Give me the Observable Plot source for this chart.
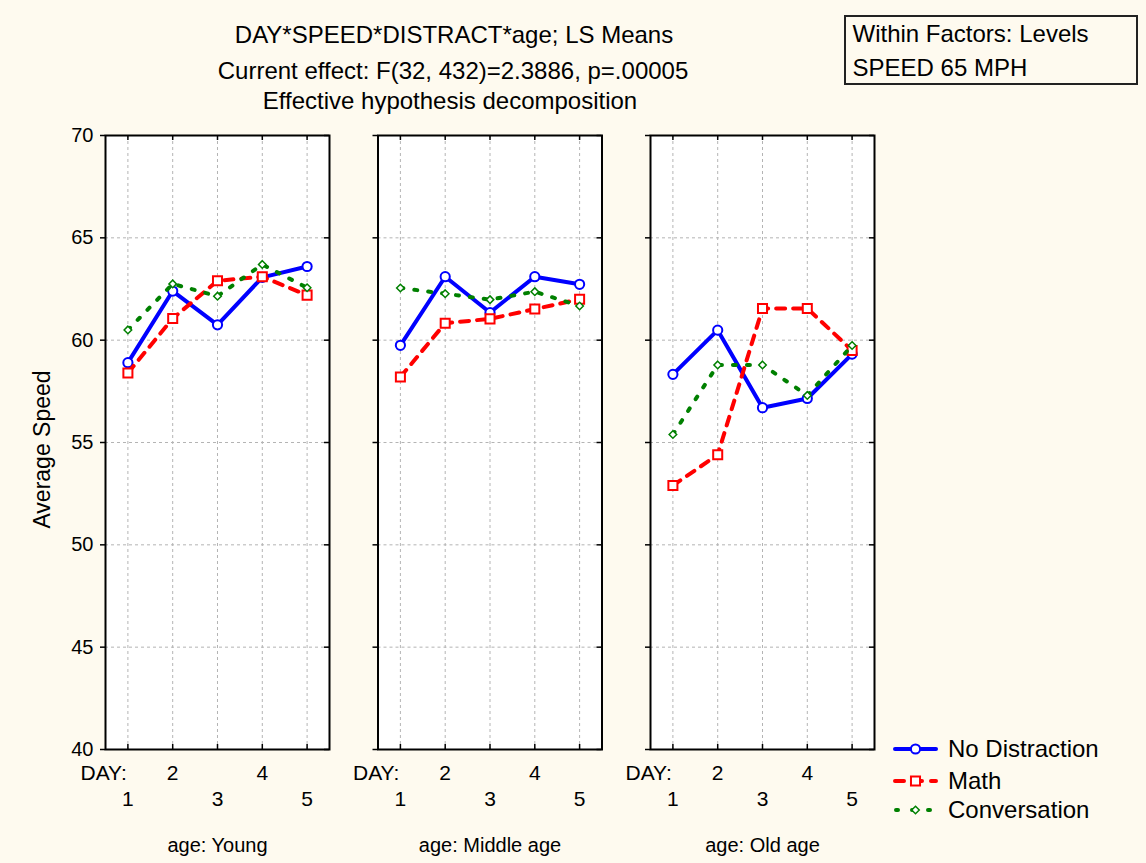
<!DOCTYPE html>
<html><head><meta charset="utf-8">
<script src="https://cdn.jsdelivr.net/npm/d3@7"></script>
<script src="https://cdn.jsdelivr.net/npm/@observablehq/plot@0.6"></script>
<style>
html,body{margin:0;padding:0;background:#fefaef;}
body{width:1146px;height:863px;position:relative;overflow:hidden;font-family:"Liberation Sans",Arial,sans-serif;color:#000;}
#chart{position:absolute;left:0;top:0;}
#chart g[aria-label="y-axis tick label"], #chart g[aria-label="y-axis tick label"] text{font-size:20px !important;}
#chart g[aria-label="x-axis tick label"], #chart g[aria-label="x-axis tick label"] text{font-size:21px !important;}
#chart g[aria-label="fx-axis tick label"], #chart g[aria-label="fx-axis tick label"] text{font-size:20px !important;}
.t{position:absolute;white-space:nowrap;font-size:24px;line-height:24px;}
.c{transform:translateX(-50%);}
#box{position:absolute;left:844px;top:15px;width:290px;height:66px;border:2px solid #222;}
.sw{position:absolute;left:890px;width:50px;height:20px;}
</style></head>
<body>
<div class="t c" style="left:454px;top:22.7px">DAY*SPEED*DISTRACT*age; LS Means</div>
<div class="t c" style="left:453px;top:58.7px">Current effect: F(32, 432)=2.3886, p=.00005</div>
<div class="t c" style="left:450px;top:88.7px">Effective hypothesis decomposition</div>
<div id="box"></div>
<div class="t" style="left:852.5px;top:22.4px">Within Factors: Levels</div>
<div class="t" style="left:852.5px;top:56.4px">SPEED 65 MPH</div>
<div id="chart"></div>
<div id="legend"></div>
<script>
// ---- data ----
const days = [1, 2, 3, 4, 5];
const ages = ["Young", "Middle age", "Old age"];
const seriesNames = ["No Distraction", "Math", "Conversation"];
const yTicks = [40, 45, 50, 55, 60, 65, 70];
const noDistraction = [
  [58.9, 62.4, 60.75, 63.07, 63.6],
  [59.75, 63.1, 61.35, 63.1, 62.73],
  [58.33, 60.49, 56.7, 57.15, 59.32]
];
const math = [
  [58.4, 61.06, 62.9, 63.1, 62.2],
  [58.2, 60.83, 61.04, 61.52, 62.0],
  [52.9, 54.4, 61.55, 61.55, 59.5]
];
const conversation = [
  [60.5, 62.75, 62.15, 63.7, 62.56],
  [62.55, 62.27, 61.98, 62.37, 61.67],
  [55.39, 58.79, 58.79, 57.3, 59.74]
];

const styles = {
  "No Distraction": {stroke: "#0000ff", dash: null, symbol: "circle", r: 4.6, sw: 2},
  "Math": {stroke: "#ff0000", dash: "9,8", symbol: "square", r: 5.1, sw: 2},
  "Conversation": {stroke: "#008000", dash: "3,11", symbol: "diamond2", r: 3.4, sw: 1.5}
};

const table = [];
[noDistraction, math, conversation].forEach((arr, s) => {
  ages.forEach((age, i) => days.forEach((day, j) => {
    table.push({series: seriesNames[s], age, day, value: arr[i][j]});
  }));
});

const seriesMarks = [];
for (const name of seriesNames) {
  const st = styles[name];
  const d = table.filter(r => r.series === name);
  seriesMarks.push(Plot.line(d, {x: "day", y: "value", fx: "age", stroke: st.stroke, strokeWidth: 4,
    strokeDasharray: st.dash, strokeLinecap: "round", strokeLinejoin: "round"}));
  seriesMarks.push(Plot.dot(d, {x: "day", y: "value", fx: "age", symbol: st.symbol, r: st.r,
    fill: "white", stroke: st.stroke, strokeWidth: st.sw}));
}

const fmt = d => String(d);
const chart = Plot.plot({
  width: 1146,
  height: 863,
  marginLeft: 105,
  marginRight: 272,
  marginTop: 135,
  marginBottom: 114,
  style: {fontFamily: "Liberation Sans, Arial, sans-serif", fontSize: "20px", background: "transparent", color: "black"},
  fx: {domain: ages, paddingInner: 0.178, paddingOuter: 0, round: false},
  x: {domain: [0.5, 5.5]},
  y: {domain: [40, 70]},
  marks: [
    Plot.frame({fill: "white"}),
    Plot.gridX({ticks: days, stroke: "#b4b4b4", strokeOpacity: 1, strokeDasharray: "3,3", strokeWidth: 1}),
    Plot.gridY({ticks: yTicks.slice(1, -1), stroke: "#b4b4b4", strokeOpacity: 1, strokeDasharray: "3,3", strokeWidth: 1}),
    Plot.axisY({ticks: yTicks, tickSize: 0, tickPadding: 12, fontSize: 20, tickFormat: fmt, label: null}),
    Plot.axisY({ticks: yTicks, tickSize: 5, tickFormat: () => "", facetAnchor: null, label: null, strokeWidth: 1.5}),
    Plot.tickY(yTicks, {y: d => d, insetLeft: 219, stroke: "black", strokeWidth: 1.5}),
    Plot.tickX(days, {x: d => d, insetBottom: 609, stroke: "black", strokeWidth: 1.5}),
    Plot.tickX(days, {x: d => d, insetTop: 609, stroke: "black", strokeWidth: 1.5}),
    Plot.axisX({ticks: [2, 4], tickSize: 0, tickPadding: 16, fontSize: 21, tickFormat: fmt, facetAnchor: null, label: null}),
    Plot.axisX({ticks: [1, 3, 5], tickSize: 0, tickPadding: 42, fontSize: 21, tickFormat: fmt, facetAnchor: null, label: null}),
    Plot.text(["DAY:"], {text: d => d, frameAnchor: "bottom-left", dx: -25, dy: 30, textAnchor: "start", fontSize: 21}),
    Plot.axisFx({anchor: "bottom", tickSize: 0, tickPadding: 88.5, fontSize: 20, tickFormat: d => "age: " + d, label: null}),
    Plot.text(["Average Speed"], {text: d => d, fx: () => "Young", frameAnchor: "left", textAnchor: "middle", rotate: -90, dx: -63, dy: 7, fontSize: 23}),
    ...seriesMarks,
    Plot.frame({stroke: "black", strokeWidth: 2})
  ]
});
document.getElementById("chart").appendChild(chart);

// ---- legend ----
const legend = document.getElementById("legend");
const rows = [[seriesNames[0], 736.7, 749], [seriesNames[1], 768.7, 781], [seriesNames[2], 797.7, 810]];
for (const [name, top, cy] of rows) {
  const st = styles[name];
  const t = document.createElement("div");
  t.className = "t"; t.style.left = "948px"; t.style.top = top + "px"; t.textContent = name;
  legend.appendChild(t);
  const svg = d3.create("svg").attr("class", "sw").style("top", (cy - 10) + "px").attr("width", 50).attr("height", 20);
  const dash = name === "Math" ? "9,9" : name === "Conversation" ? "2,14" : null;
  svg.append("line").attr("x1", 5).attr("x2", 46).attr("y1", 10).attr("y2", 10)
    .attr("stroke", st.stroke).attr("stroke-width", 4).attr("stroke-linecap", "round")
    .attr("stroke-dasharray", dash).attr("stroke-dashoffset", name === "Conversation" ? -1 : 0);
  const sym = {circle: d3.symbolCircle, square: d3.symbolSquare, diamond2: d3.symbolDiamond2}[st.symbol];
  svg.append("path").attr("transform", "translate(25.5,10)")
    .attr("d", d3.symbol(sym, Math.PI * st.r * st.r)())
    .attr("fill", "white").attr("stroke", st.stroke).attr("stroke-width", st.sw);
  legend.appendChild(svg.node());
}
</script>
</body></html>
